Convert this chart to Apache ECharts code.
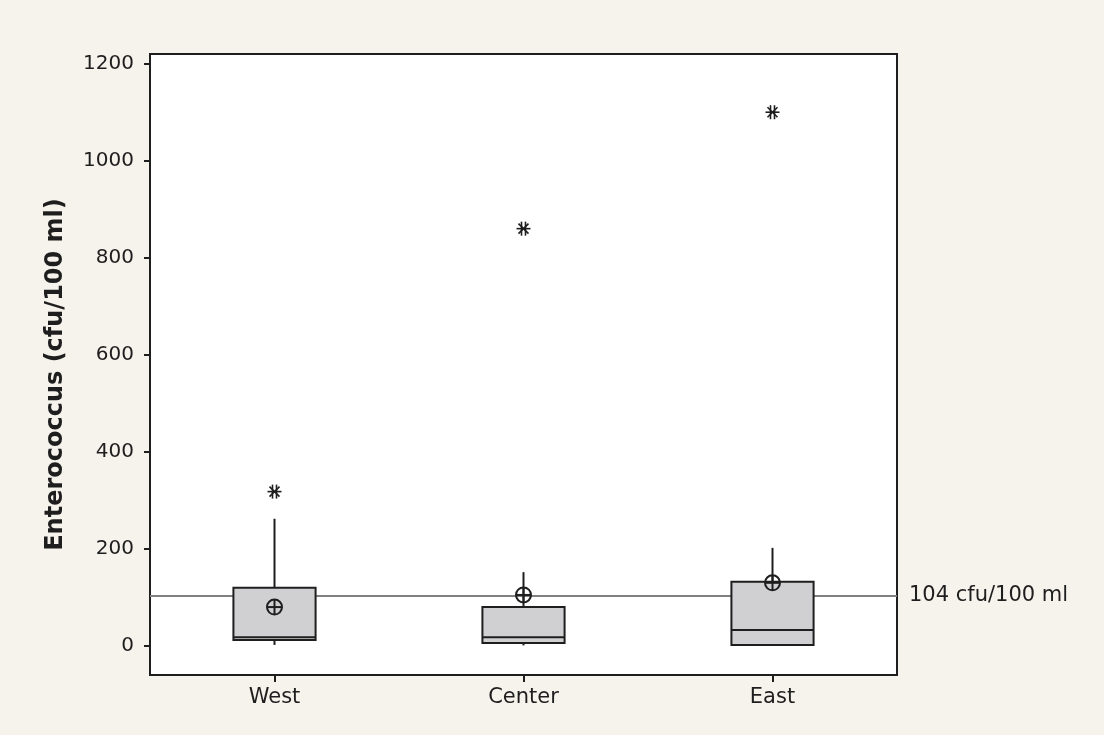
<!DOCTYPE html>
<html>
<head>
<meta charset="utf-8">
<script src="https://cdn.jsdelivr.net/npm/echarts@6/dist/echarts.min.js"></script>
<style>
  html, body { margin: 0; padding: 0; background: #f6f2ec; }
  #chart { width: 1104px; height: 735px; }
</style>
</head>
<body>
<div id="chart"></div>
<script>
// Enterococcus counts by site (cfu/100 ml)
const categories = ['West', 'Center', 'East'];
const whiskerLow = [2, 1, 2];
const q1 = [12, 6, 2];
const median = [18, 18, 33];
const q3 = [120, 80, 132];
const whiskerHigh = [262, 152, 202];
const means = [80, 105, 130];
const outliers = [[0, 318], [1, 860], [2, 1100]];
const yTicks = [0, 200, 400, 600, 800, 1000, 1200];
const limitValue = 104;
const limitLabel = '104 cfu/100 ml';

const FONT = 'DejaVu Sans';
const INK = '#1e1e1e';

const boxData = categories.map((c, i) => [i, whiskerLow[i], q1[i], median[i], q3[i], whiskerHigh[i]]);
const meanData = categories.map((c, i) => [i, means[i]]);

function renderBox(params, api) {
  const i = api.value(0);
  const band = api.size([1, 0])[0];
  const half = band * 0.165;
  const pLow = api.coord([i, api.value(1)]);
  const pQ1 = api.coord([i, api.value(2)]);
  const pMed = api.coord([i, api.value(3)]);
  const pQ3 = api.coord([i, api.value(4)]);
  const pHigh = api.coord([i, api.value(5)]);
  const x = pQ1[0];
  const line = { stroke: INK, lineWidth: 2 };
  return {
    type: 'group',
    children: [
      { type: 'line', shape: { x1: x, y1: pQ3[1], x2: x, y2: pHigh[1] }, style: line },
      { type: 'line', shape: { x1: x, y1: pQ1[1], x2: x, y2: pLow[1] }, style: line },
      { type: 'rect', shape: { x: x - half, y: pQ3[1], width: half * 2, height: pQ1[1] - pQ3[1] },
        style: { fill: '#d0d0d2', stroke: INK, lineWidth: 2 } },
      { type: 'line', shape: { x1: x - half, y1: pMed[1], x2: x + half, y2: pMed[1] }, style: line }
    ]
  };
}

function renderMean(params, api) {
  const p = api.coord([api.value(0), api.value(1)]);
  const r = 7.5;
  const st = { stroke: INK, lineWidth: 2, fill: null };
  return {
    type: 'group',
    children: [
      { type: 'circle', shape: { cx: p[0], cy: p[1], r: r }, style: st },
      { type: 'line', shape: { x1: p[0] - r, y1: p[1], x2: p[0] + r, y2: p[1] }, style: st },
      { type: 'line', shape: { x1: p[0], y1: p[1] - r, x2: p[0], y2: p[1] + r }, style: st }
    ]
  };
}

function renderStar(params, api) {
  const p = api.coord([api.value(0), api.value(1)]);
  const s = 7;
  const d = 5;
  const st = { stroke: INK, lineWidth: 1.6 };
  return {
    type: 'group',
    children: [
      { type: 'line', shape: { x1: p[0] - s, y1: p[1], x2: p[0] + s, y2: p[1] }, style: st },
      { type: 'line', shape: { x1: p[0] - 2, y1: p[1] - s, x2: p[0] - 2, y2: p[1] + s }, style: st },
      { type: 'line', shape: { x1: p[0] + 2, y1: p[1] - s, x2: p[0] + 2, y2: p[1] + s }, style: st },
      { type: 'line', shape: { x1: p[0] - d, y1: p[1] - d, x2: p[0] + d, y2: p[1] + d }, style: st },
      { type: 'line', shape: { x1: p[0] - d, y1: p[1] + d, x2: p[0] + d, y2: p[1] - d }, style: st }
    ]
  };
}

const chart = echarts.init(document.getElementById('chart'), null, { renderer: 'canvas' });
chart.setOption({
  backgroundColor: '#f6f2ec',
  animation: false,
  textStyle: { fontFamily: FONT, color: INK },
  grid: {
    left: 150, right: 207, top: 54, bottom: 60,
    show: true, backgroundColor: '#ffffff', borderColor: INK, borderWidth: 2
  },
  xAxis: {
    type: 'category',
    data: categories,
    boundaryGap: true,
    axisLine: { show: true, onZero: false, lineStyle: { color: INK, width: 2 } },
    axisTick: { show: true, alignWithLabel: true, length: 7, lineStyle: { color: INK, width: 2 } },
    axisLabel: { fontFamily: FONT, fontSize: 21, color: INK, margin: 12 },
    splitLine: { show: false }
  },
  yAxis: {
    type: 'value',
    min: -60,
    max: 1220,
    name: 'Enterococcus (cfu/100 ml)',
    nameLocation: 'middle',
    nameGap: 82,
    nameTextStyle: { fontFamily: FONT, fontSize: 24, fontWeight: 'bold', color: INK, padding: [0, 20, 0, 0] },
    axisLine: { show: true, onZero: false, lineStyle: { color: INK, width: 2 } },
    axisTick: { show: true, length: 6, customValues: yTicks, lineStyle: { color: INK, width: 2 } },
    axisLabel: {
      fontFamily: FONT, fontSize: 20, color: INK, margin: 16, customValues: yTicks,
      formatter: (v) => String(v)
    },
    splitLine: { show: false }
  },
  series: [
    {
      name: 'limit',
      type: 'line',
      data: [],
      silent: true,
      z: 1,
      markLine: {
        silent: true,
        z: 1,
        symbol: ['none', 'none'],
        lineStyle: { color: '#808080', width: 2, type: 'solid' },
        label: {
          show: true, position: 'end', distance: 12, formatter: limitLabel,
          fontFamily: FONT, fontSize: 21, color: INK
        },
        data: [{ yAxis: limitValue }]
      }
    },
    { name: 'box', type: 'custom', renderItem: renderBox, data: boxData, z: 3 },
    { name: 'mean', type: 'custom', renderItem: renderMean, data: meanData, z: 4 },
    { name: 'outlier', type: 'custom', renderItem: renderStar, data: outliers, z: 4 }
  ]
});
</script>
</body>
</html>
